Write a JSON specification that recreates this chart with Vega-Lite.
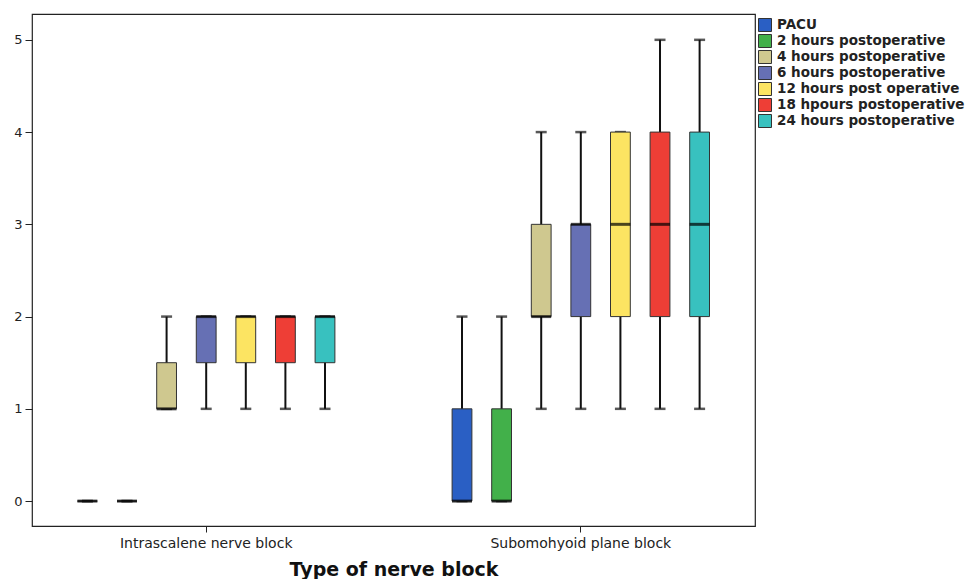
{
  "$schema": "https://vega.github.io/schema/vega-lite/v6.json",
  "width": 723,
  "height": 512,
  "autosize": {"type": "none"},
  "padding": {"left": 32, "top": 14, "right": 211, "bottom": 53},
  "background": "white",
  "config": {"view": {"stroke": "#222", "strokeWidth": 1.2}, "font": "DejaVu Sans"},
  "data": {
    "values": [
      {"group": "Intrascalene nerve block", "time": "PACU", "min": 0, "q1": 0, "median": 0, "q3": 0, "max": 0},
      {"group": "Intrascalene nerve block", "time": "2 hours postoperative", "min": 0, "q1": 0, "median": 0, "q3": 0, "max": 0},
      {"group": "Intrascalene nerve block", "time": "4 hours postoperative", "min": 1, "q1": 1, "median": 1, "q3": 1.5, "max": 2},
      {"group": "Intrascalene nerve block", "time": "6 hours postoperative", "min": 1, "q1": 1.5, "median": 2, "q3": 2, "max": 2},
      {"group": "Intrascalene nerve block", "time": "12 hours post operative", "min": 1, "q1": 1.5, "median": 2, "q3": 2, "max": 2},
      {"group": "Intrascalene nerve block", "time": "18 hpours postoperative", "min": 1, "q1": 1.5, "median": 2, "q3": 2, "max": 2},
      {"group": "Intrascalene nerve block", "time": "24 hours postoperative", "min": 1, "q1": 1.5, "median": 2, "q3": 2, "max": 2},
      {"group": "Subomohyoid plane block", "time": "PACU", "min": 0, "q1": 0, "median": 0, "q3": 1, "max": 2},
      {"group": "Subomohyoid plane block", "time": "2 hours postoperative", "min": 0, "q1": 0, "median": 0, "q3": 1, "max": 2},
      {"group": "Subomohyoid plane block", "time": "4 hours postoperative", "min": 1, "q1": 2, "median": 2, "q3": 3, "max": 4},
      {"group": "Subomohyoid plane block", "time": "6 hours postoperative", "min": 1, "q1": 2, "median": 3, "q3": 3, "max": 4},
      {"group": "Subomohyoid plane block", "time": "12 hours post operative", "min": 1, "q1": 2, "median": 3, "q3": 4, "max": 4},
      {"group": "Subomohyoid plane block", "time": "18 hpours postoperative", "min": 1, "q1": 2, "median": 3, "q3": 4, "max": 5},
      {"group": "Subomohyoid plane block", "time": "24 hours postoperative", "min": 1, "q1": 2, "median": 3, "q3": 4, "max": 5}
    ]
  },
  "encoding": {
    "x": {
      "field": "group",
      "type": "nominal",
      "scale": {"domain": ["Intrascalene nerve block", "Subomohyoid plane block"], "paddingInner": 0.26, "paddingOuter": 0.095},
      "axis": {
        "title": "Type of nerve block",
        "titleFont": "DejaVu Sans",
        "titleFontSize": 19,
        "titleFontWeight": "bold",
        "titleColor": "#111",
        "titlePadding": 10,
        "labelAngle": 0,
        "labelFont": "DejaVu Sans",
        "labelFontSize": 14,
        "labelColor": "#222",
        "labelPadding": 4,
        "labelLimit": 400,
        "tickSize": 6,
        "tickColor": "#222",
        "domain": false
      }
    },
    "xOffset": {
      "field": "time",
      "type": "nominal",
      "scale": {
        "domain": ["PACU", "2 hours postoperative", "4 hours postoperative", "6 hours postoperative", "12 hours post operative", "18 hpours postoperative", "24 hours postoperative"],
        "paddingInner": 0.5,
        "paddingOuter": 0.25
      }
    }
  },
  "layer": [
    {
      "mark": {"type": "rule", "color": "#111", "strokeWidth": 2},
      "encoding": {
        "y": {"field": "min", "type": "quantitative", "scale": {"domain": [-0.27, 5.28], "nice": false, "zero": false},
          "axis": {"title": null, "values": [0, 1, 2, 3, 4, 5], "format": "d", "grid": false, "domain": false, "tickSize": 7, "tickColor": "#222", "labelFontSize": 13, "labelColor": "#222", "labelPadding": 3}},
        "y2": {"field": "max"}
      }
    },
    {
      "mark": {"type": "tick", "color": "#111", "thickness": 2.5, "size": 11},
      "encoding": {
        "y": {"field": "min", "type": "quantitative", "scale": {"domain": [-0.27, 5.28], "nice": false, "zero": false}, "axis": {"title": null}}
      }
    },
    {
      "mark": {"type": "tick", "color": "#111", "thickness": 2.5, "size": 11},
      "encoding": {
        "y": {"field": "max", "type": "quantitative", "scale": {"domain": [-0.27, 5.28], "nice": false, "zero": false}, "axis": {"title": null}}
      }
    },
    {
      "mark": {"type": "bar", "stroke": "#333", "strokeWidth": 1},
      "encoding": {
        "y": {"field": "q1", "type": "quantitative", "scale": {"domain": [-0.27, 5.28], "nice": false, "zero": false}, "axis": {"title": null}},
        "y2": {"field": "q3"},
        "color": {
          "field": "time",
          "type": "nominal",
          "scale": {
            "domain": ["PACU", "2 hours postoperative", "4 hours postoperative", "6 hours postoperative", "12 hours post operative", "18 hpours postoperative", "24 hours postoperative"],
            "range": ["#2a5fc4", "#42b04a", "#cfc88f", "#6670b4", "#fce462", "#ee3e36", "#38c1bf"]
          },
          "legend": {
            "title": null,
            "orient": "none",
            "legendX": 726,
            "legendY": 4,
            "padding": 0,
            "symbolType": "square",
            "symbolSize": 169,
            "symbolStrokeColor": "#333",
            "symbolStrokeWidth": 1,
            "symbolOpacity": 1,
            "labelFont": "DejaVu Sans",
            "labelFontWeight": "bold",
            "labelFontSize": 13.5,
            "labelColor": "#222",
            "labelOffset": 5,
            "labelLimit": 300,
            "rowPadding": -3.5
          }
        }
      }
    },
    {
      "mark": {"type": "tick", "color": "#000", "thickness": 3, "size": 20},
      "encoding": {
        "y": {"field": "median", "type": "quantitative", "scale": {"domain": [-0.27, 5.28], "nice": false, "zero": false}, "axis": {"title": null}}
      }
    }
  ]
}
